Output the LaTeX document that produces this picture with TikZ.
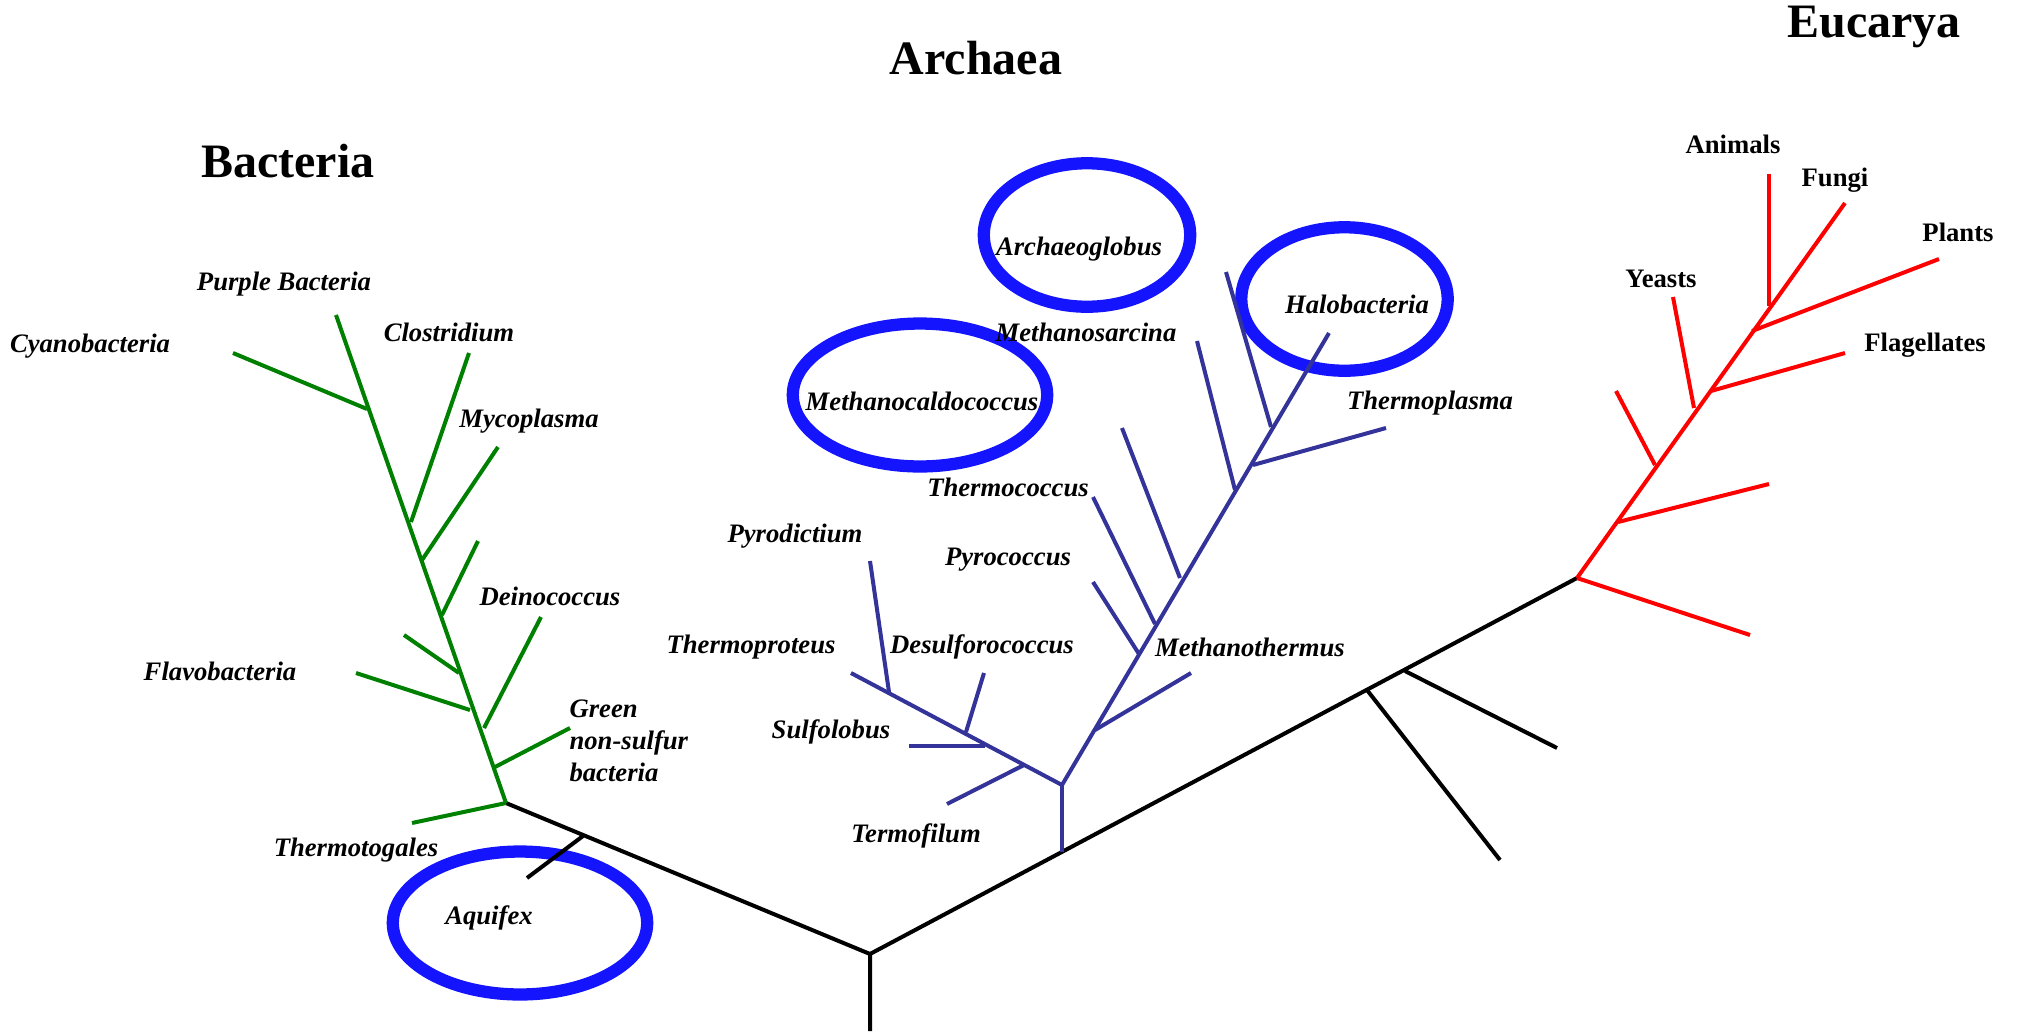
\documentclass[tikz,border=0pt]{standalone}
\usepackage{fontspec}
\setmainfont{Liberation Serif}
\usetikzlibrary{shapes.geometric}
\definecolor{bgreen}{RGB}{0,128,0}
\definecolor{ablue}{RGB}{51,51,153}
\definecolor{ringblue}{RGB}{20,20,255}
\begin{document}
\begin{tikzpicture}[x=0.375pt,y=-0.375pt,
  ring/.style={ellipse,draw=ringblue,line width=4.6pt,inner sep=0pt},
  widering/.style={ring,minimum width=95.4pt,minimum height=53.6pt},
  roundring/.style={ring,minimum width=77.4pt,minimum height=53.8pt},
  lab/.style={font=\fontsize{10}{12}\selectfont\bfseries\itshape,inner sep=0pt},
  eulab/.style={font=\fontsize{10}{12}\selectfont\bfseries,inner sep=0pt},
  title/.style={font=\fontsize{18}{21}\selectfont\bfseries,inner sep=0pt},
  kline/.style={draw=black,line width=1.5pt},
  gline/.style={draw=bgreen,line width=1.5pt},
  aline/.style={draw=ablue,line width=1.5pt},
  rline/.style={draw=red,line width=1.5pt}]
\useasboundingbox (0,0) rectangle (2022,1033);

% rings
\node[widering] (aqring) at (520,923) {};
\node[widering] (mcring) at (920,395) {};
\node[roundring] (agring) at (1087,235) {};
\node[roundring] (hbring) at (1344.5,299) {};

% backbone coordinates
\coordinate (rootbot) at (870,1031);
\coordinate (R) at (870,954);
\coordinate (B) at (506,803);
\coordinate (E) at (1577,578);
\coordinate (Abase) at (1062,852);
\coordinate (A) at (1062,785);
\coordinate (aq1) at (583,836);
\coordinate (aq2) at (527,878);
\coordinate (k1) at (1367,690);
\coordinate (k1e) at (1500,860);
\coordinate (k2) at (1405,671);
\coordinate (k2e) at (1557,748);

\draw[kline] (rootbot) -- (R) -- (B);
\draw[kline] (R) -- (E);
\draw[kline] (aq1) -- (aq2);
\draw[kline] (k1) -- (k1e);
\draw[kline] (k2) -- (k2e);

% Bacteria
\coordinate (gtop) at (336,315);
\coordinate (cy1) at (233,353);   \coordinate (cy2) at (367,409);
\coordinate (cl1) at (469,353);   \coordinate (cl2) at (411,522);
\coordinate (my1) at (498,447);   \coordinate (my2) at (422,560);
\coordinate (de1) at (478,541);   \coordinate (de2) at (442,615);
\coordinate (ls1) at (404,635);   \coordinate (ls2) at (459,673);
\coordinate (fl1) at (356,673);   \coordinate (fl2) at (470,710);
\coordinate (dl1) at (541,617);   \coordinate (dl2) at (484,728);
\coordinate (gn1) at (570,728);   \coordinate (gn2) at (495,767);
\coordinate (tt1) at (412,823);
\draw[gline] (B) -- (gtop);
\draw[gline] (cy1) -- (cy2);
\draw[gline] (cl1) -- (cl2);
\draw[gline] (my1) -- (my2);
\draw[gline] (de1) -- (de2);
\draw[gline] (ls1) -- (ls2);
\draw[gline] (fl1) -- (fl2);
\draw[gline] (dl1) -- (dl2);
\draw[gline] (gn1) -- (gn2);
\draw[gline] (tt1) -- (B);

% Archaea
\coordinate (htop) at (1329,333);
\coordinate (cren) at (851,673);
\coordinate (al1) at (1226,272);  \coordinate (al2) at (1271,427);
\coordinate (tp1) at (1386,428);  \coordinate (tp2) at (1253,465);
\coordinate (ms1) at (1197,341);  \coordinate (ms2) at (1235,490);
\coordinate (tc1) at (1122,428);  \coordinate (tc2) at (1180,578);
\coordinate (th1) at (1093,497);  \coordinate (th2) at (1155,624);
\coordinate (py1) at (1093,582);  \coordinate (py2) at (1139,654);
\coordinate (mt1) at (1191,673);  \coordinate (mt2) at (1095,730);
\coordinate (pd1) at (870,561);   \coordinate (pd2) at (889,692);
\coordinate (ds1) at (984,673);   \coordinate (ds2) at (966,732);
\coordinate (sf1) at (909,746);   \coordinate (sf2) at (985,746);
\coordinate (tf1) at (947,804);   \coordinate (tf2) at (1024,765);
\draw[aline] (Abase) -- (A);
\draw[aline] (A) -- (htop);
\draw[aline] (A) -- (cren);
\draw[aline] (al1) -- (al2);
\draw[aline] (tp1) -- (tp2);
\draw[aline] (ms1) -- (ms2);
\draw[aline] (tc1) -- (tc2);
\draw[aline] (th1) -- (th2);
\draw[aline] (py1) -- (py2);
\draw[aline] (mt1) -- (mt2);
\draw[aline] (pd1) -- (pd2);
\draw[aline] (ds1) -- (ds2);
\draw[aline] (sf1) -- (sf2);
\draw[aline] (tf1) -- (tf2);

% Eucarya
\coordinate (ftop) at (1845,203);
\coordinate (an1) at (1769,174);  \coordinate (an2) at (1769,306);
\coordinate (pl1) at (1939,259);  \coordinate (pl2) at (1752,331);
\coordinate (fg1) at (1845,353);  \coordinate (fg2) at (1711,391);
\coordinate (ye1) at (1673,297);  \coordinate (ye2) at (1694,408);
\coordinate (ul1) at (1616,391);  \coordinate (ul2) at (1655,465);
\coordinate (rb1) at (1769,484);  \coordinate (rb2) at (1618,522);
\coordinate (lo2) at (1750,635);
\draw[rline] (E) -- (ftop);
\draw[rline] (an1) -- (an2);
\draw[rline] (pl1) -- (pl2);
\draw[rline] (fg1) -- (fg2);
\draw[rline] (ye1) -- (ye2);
\draw[rline] (ul1) -- (ul2);
\draw[rline] (rb1) -- (rb2);
\draw[rline] (E) -- (lo2);

% titles
\node[title] (tbac) at (288,161) {Bacteria};
\node[title] (tarc) at (976,58) {Archaea};
\node[title] (teuc) at (1874,27) {Eucarya};

% bacteria labels
\node[lab] (lpurple) at (284,284) {Purple Bacteria};
\node[lab] (lcyano) at (90,346) {Cyanobacteria};
\node[lab] (lclos) at (449,332) {Clostridium};
\node[lab] (lmyco) at (529,421) {Mycoplasma};
\node[lab] (ldein) at (550,596) {Deinococcus};
\node[lab] (lflavo) at (220,671) {Flavobacteria};
\node[lab,align=left,anchor=west] (lgreen) at (569,741) {Green\\non-sulfur\\bacteria};
\node[lab] (lthermo) at (356,850) {Thermotogales};
\node[lab] (laquifex) at (489,918) {Aquifex};

% archaea labels
\node[lab] (larchaeo) at (1079,249) {Archaeoglobus};
\node[lab] (lhalo) at (1357,304) {Halobacteria};
\node[lab] (lmcaldo) at (922,401) {Methanocaldococcus};
\node[lab] (lmsarc) at (1086,332) {Methanosarcina};
\node[lab] (ltplasma) at (1430,403) {Thermoplasma};
\node[lab] (ltcoccus) at (1008,487) {Thermococcus};
\node[lab] (lpyrod) at (795,536) {Pyrodictium};
\node[lab] (lpyroc) at (1008,560) {Pyrococcus};
\node[lab] (ltprot) at (751,647) {Thermoproteus};
\node[lab] (ldesulf) at (982,647) {Desulforococcus};
\node[lab] (lmtherm) at (1250,647) {Methanothermus};
\node[lab] (lsulfo) at (831,732) {Sulfolobus};
\node[lab] (ltermo) at (916,836) {Termofilum};

% eucarya labels
\node[eulab] (lanimals) at (1733,144) {Animals};
\node[eulab] (lfungi) at (1835,180) {Fungi};
\node[eulab] (lplants) at (1958,232) {Plants};
\node[eulab] (lyeasts) at (1661,279) {Yeasts};
\node[eulab] (lflag) at (1925,345) {Flagellates};
\end{tikzpicture}
\end{document}
